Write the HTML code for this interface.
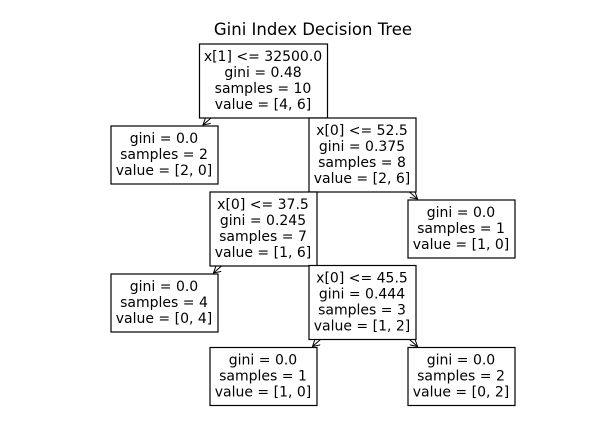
<!DOCTYPE html>
<html><head><meta charset="utf-8"><style>
html,body{margin:0;padding:0;background:#fff;overflow:hidden;}
svg{display:block;}
svg text{font-family:"DejaVu Sans","Liberation Sans",sans-serif;font-size:14px;fill:#000;}
</style></head><body>
<svg id="chart" width="609" height="446" xmlns="http://www.w3.org/2000/svg">
<rect width="609" height="446" fill="#fff"/>
<text x="313" y="35" text-anchor="middle" style="font-size:16.5px">Gini Index Decision Tree</text>
<defs><marker id="ah" markerWidth="8" markerHeight="8" refX="7" refY="4" orient="auto" markerUnits="userSpaceOnUse"><path d="M0,0 L7,4 L0,8" fill="none" stroke="#000" stroke-width="1"/></marker></defs>
<g id="edges"></g><g id="nodes"></g>
</svg>
<script>
const nodeLabels = [
 ["x[1] <= 32500.0","gini = 0.48","samples = 10","value = [4, 6]"],
 ["gini = 0.0","samples = 2","value = [2, 0]"],
 ["x[0] <= 52.5","gini = 0.375","samples = 8","value = [2, 6]"],
 ["x[0] <= 37.5","gini = 0.245","samples = 7","value = [1, 6]"],
 ["gini = 0.0","samples = 1","value = [1, 0]"],
 ["gini = 0.0","samples = 4","value = [0, 4]"],
 ["x[0] <= 45.5","gini = 0.444","samples = 3","value = [1, 2]"],
 ["gini = 0.0","samples = 1","value = [1, 0]"],
 ["gini = 0.0","samples = 2","value = [0, 2]"]
];
const nodeCenterX = [263,164,362,263,461,164,362,263,461];
const nodeCenterY = [80.5,154.5,154.5,228.5,228.5,302.5,302,376,376];
const nodeWidth = [128,107,107,107,107,107,107,107,107];
const edges = [[0,1],[0,2],[2,3],[2,4],[3,5],[3,6],[6,7],[6,8]];
const ns="http://www.w3.org/2000/svg";
const LH=16;
const gN=document.getElementById('nodes'), gE=document.getElementById('edges');
const boxes=[];
nodeLabels.forEach((lines,i)=>{
  const h=lines.length*LH+10, w=nodeWidth[i];
  const x=nodeCenterX[i]-w/2, y=nodeCenterY[i]-h/2;
  boxes.push({x,y,w,h});
  const g=document.createElementNS(ns,'g');
  
  
  const r=document.createElementNS(ns,'rect');
  r.setAttribute('x',x+0.5);r.setAttribute('y',y+0.5);r.setAttribute('width',w);r.setAttribute('height',h);
  r.setAttribute('fill','#fff');r.setAttribute('stroke','#000');r.setAttribute('stroke-width','1.2');
  g.appendChild(r);
  lines.forEach((t,k)=>{
    const tx=document.createElementNS(ns,'text');
    tx.setAttribute('x',nodeCenterX[i]);tx.setAttribute('y',y+5+LH*k+12.5);
    tx.setAttribute('text-anchor','middle');tx.textContent=t;g.appendChild(tx);
  });
  gN.appendChild(g);
});
edges.forEach(([p,c])=>{
  const pb=boxes[p], cb=boxes[c];
  const left=nodeCenterX[c]<nodeCenterX[p];
  const y1=pb.y+pb.h+0.5, y2=cb.y-0.5;
  if(y2-y1<2) return;
  const x1=left?pb.x+12:pb.x+pb.w-6, x2=left?x1-8:x1+8;
  const l=document.createElementNS(ns,'line');
  
  
  l.setAttribute('x1',x1);l.setAttribute('y1',y1);l.setAttribute('x2',x2);l.setAttribute('y2',y2);
  l.setAttribute('stroke','#000');l.setAttribute('marker-end','url(#ah)');
  gE.appendChild(l);
});
</script>
</body></html>
